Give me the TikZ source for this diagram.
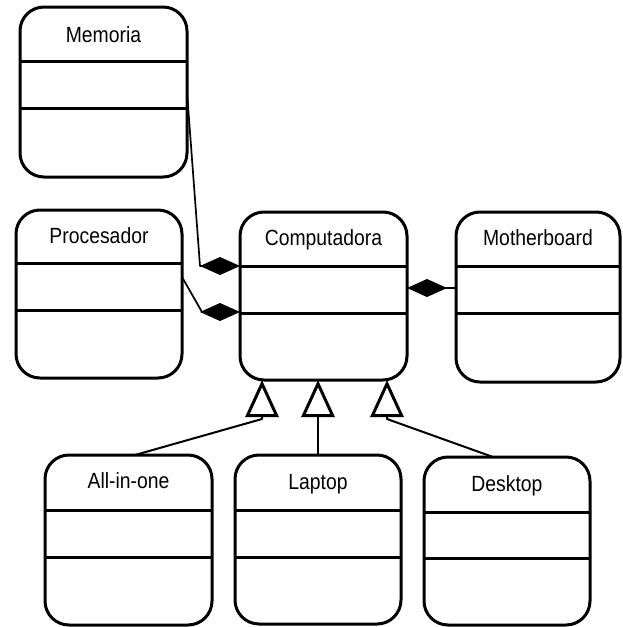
\documentclass[tikz,border=0pt]{standalone}
\usepackage{fontspec}
\setmainfont{Liberation Sans}[FakeStretch=0.88]
\usetikzlibrary{arrows.meta}

\begin{document}
\begin{tikzpicture}[x=1pt, y=-1pt, line join=round]
        % -------- 共用樣式 --------
        \tikzset{
          classbox/.style={draw, line width=3pt, rounded corners=24pt, outer sep=0pt, inner sep=0pt},
          classname/.style={font=\fontsize{22}{24}\selectfont, inner sep=0pt, anchor=base},
          divider/.style={line width=3pt},
          compo/.style={line width=1.7pt, -{Diamond[length=40pt, width=18pt]}},
          inherit/.style={line width=2pt, -{Triangle[open, length=37pt, width=33pt, line width=3pt]}}
        }
        \path[fill=white] (0,0) rectangle (622,627);
        \useasboundingbox (0,0) rectangle (622,627);

        % ======== Memoria ========
        \node[classbox, minimum width=167pt, minimum height=170pt] (mem) at (103.5,92) {};
        \node[classname] at ([yshift=-35pt]mem.north) {Memoria};
        \draw[divider] ([yshift=-54pt]mem.north west) -- ([yshift=-54pt]mem.north east);
        \draw[divider] ([yshift=-101pt]mem.north west) -- ([yshift=-101pt]mem.north east);

        % ======== Procesador ========
        \node[classbox, minimum width=166pt, minimum height=168pt] (proc) at (99,294) {};
        \node[classname] at ([yshift=-33pt]proc.north) {Procesador};
        \draw[divider] ([yshift=-53pt]proc.north west) -- ([yshift=-53pt]proc.north east);
        \draw[divider] ([yshift=-100pt]proc.north west) -- ([yshift=-100pt]proc.north east);

        % ======== Computadora ========
        \node[classbox, minimum width=167pt, minimum height=168pt] (comp) at (323.5,296) {};
        \node[classname] at ([yshift=-33pt]comp.north) {Computadora};
        \draw[divider] ([yshift=-54pt]comp.north west) -- ([yshift=-54pt]comp.north east);
        \draw[divider] ([yshift=-101pt]comp.north west) -- ([yshift=-101pt]comp.north east);

        % ======== Motherboard ========
        \node[classbox, minimum width=164pt, minimum height=170pt] (mb) at (538,297) {};
        \node[classname] at ([yshift=-33pt]mb.north) {Motherboard};
        \draw[divider] ([yshift=-54pt]mb.north west) -- ([yshift=-54pt]mb.north east);
        \draw[divider] ([yshift=-101pt]mb.north west) -- ([yshift=-101pt]mb.north east);

        % ======== All-in-one ========
        \node[classbox, minimum width=167pt, minimum height=170pt] (aio) at (128.5,540) {};
        \node[classname] at ([yshift=-33pt]aio.north) {All-in-one};
        \draw[divider] ([yshift=-55pt]aio.north west) -- ([yshift=-55pt]aio.north east);
        \draw[divider] ([yshift=-102pt]aio.north west) -- ([yshift=-102pt]aio.north east);

        % ======== Laptop ========
        \node[classbox, minimum width=166pt, minimum height=169pt] (lap) at (318,539.5) {};
        \node[classname] at ([yshift=-34pt]lap.north) {Laptop};
        \draw[divider] ([yshift=-55pt]lap.north west) -- ([yshift=-55pt]lap.north east);
        \draw[divider] ([yshift=-102pt]lap.north west) -- ([yshift=-102pt]lap.north east);

        % ======== Desktop ========
        \node[classbox, minimum width=166pt, minimum height=168pt] (desk) at (507,541) {};
        \node[classname] at ([yshift=-34pt]desk.north) {Desktop};
        \draw[divider] ([yshift=-55pt]desk.north west) -- ([yshift=-55pt]desk.north east);
        \draw[divider] ([yshift=-101pt]desk.north west) -- ([yshift=-101pt]desk.north east);

        % 組合 (實心菱形)
        \draw[compo] (mem.east) -- ([yshift=30pt, xshift=-40pt]comp.west) -- ([yshift=30pt]comp.west);
        \draw[compo] ([yshift=17pt]proc.east) -- ([yshift=-16pt, xshift=-38pt]comp.west) -- ([yshift=-16pt]comp.west);
        \draw[compo] ([yshift=9pt]mb.west) -- ([yshift=8pt]comp.east);

        % 繼承 (空心三角形)
        \draw[inherit] ([xshift=6.5pt]aio.north) -- ([xshift=-61.5pt, yshift=-39pt]comp.south) -- ([xshift=-61.5pt]comp.south);
        \draw[inherit] (lap.north) -- ([xshift=-5.5pt]comp.south);
        \draw[inherit] ([xshift=-14pt]desk.north) -- ([xshift=63.5pt, yshift=-39pt]comp.south) -- ([xshift=63.5pt]comp.south);

\end{tikzpicture}
\end{document}
